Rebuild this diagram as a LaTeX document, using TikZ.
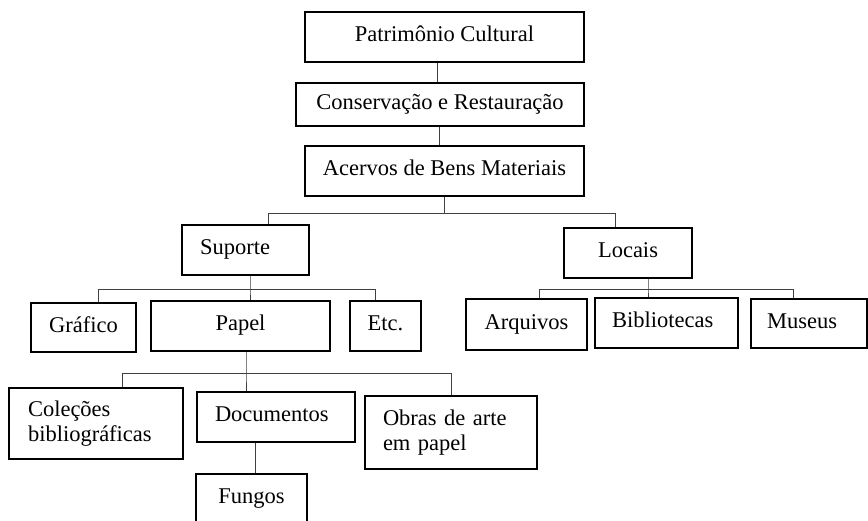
\documentclass[tikz,border=0pt]{standalone}
\usepackage{fontspec}
\setmainfont{Liberation Serif}
\usetikzlibrary{positioning}

\newcommand{\esq}[2]{\makebox[#1pt][l]{#2}}

\tikzset{
  caixa/.style={draw, line width=1.6pt, inner sep=0pt,
    font=\fontsize{22.5}{25}\selectfont},
  linha/.style={caixa, text height=14.5pt, text depth=5.5pt},
  bloco/.style={caixa, align=left, inner xsep=#1},
  link/.style={draw=black!75, line width=0.9pt},
}

\begin{document}
\begin{tikzpicture}[x=1pt,y=-1pt]
  \useasboundingbox (0,0) rectangle (868,520);
  \clip (0,0) rectangle (868,520);

  % first column of boxes
  \node[linha, minimum width=279, minimum height=50] (pat)  at (444.5,37)  {Patrimônio Cultural};
  \node[linha, minimum width=288, minimum height=43] (cons) at (440,104.5) {Conservação e Restauração};
  \node[linha, minimum width=279, minimum height=50] (acer) at (444.5,171) {Acervos de Bens Materiais};

  \node[linha, minimum width=127, minimum height=50] (sup) at (245.5,250) {\esq{91}{Suporte}};
  \node[linha, minimum width=128, minimum height=50] (loc) at (628,253)   {Locais};

  \node[linha, minimum width=105, minimum height=49] (graf)  at (83.5,327.5) {Gráfico};
  \node[linha, minimum width=179, minimum height=50] (papel) at (240.5,326)  {Papel};
  \node[linha, minimum width=71,  minimum height=50] (etc)   at (385.5,326)  {Etc.};

  \node[linha, minimum width=121, minimum height=51] (arq) at (526.5,324.5) {Arquivos};
  \node[linha, minimum width=143, minimum height=50] (bib) at (666.5,323)   {\esq{109}{Bibliotecas}};
  \node[linha, minimum width=116, minimum height=49] (mus) at (809,323.5)   {\esq{84}{Museus}};

  \node[bloco=19, text width=136, minimum height=71] (col) at (96,423.5)
    {Coleções\\bibliográficas};
  \node[linha, minimum width=158, minimum height=50] (doc) at (276,417) {\esq{122}{Documentos}};
  \node[bloco=18, text width=136, minimum height=73] (obras) at (451,432.5)
    {Obras de arte\\em papel};

  \node[linha, minimum width=111, minimum height=50, anchor=north] (fun) at (251.5,473) {Fungos};

  % connectors
  \draw[link] ([xshift=-7pt]pat.south) -- ([xshift=-7pt]pat.south |- cons.north);
  \draw[link] ([xshift=-1pt]cons.south) -- ([xshift=-1pt]cons.south |- acer.north);

  \draw[link] (acer.south) -- ++(0,17) coordinate (jA);
  \draw[link] ([xshift=23pt]sup.north) |- (jA) -| ([xshift=-13pt]loc.north);

  \draw[link] ([xshift=4.5pt]sup.south) -- ++(0,14) coordinate (jB) -- (jB |- papel.north);
  \draw[link] ([xshift=14.5pt]graf.north) |- (jB) -| ([xshift=-10.5pt]etc.north);

  \draw[link] ([xshift=20pt]loc.south) -- ++(0,11) coordinate (jC) -- (jC |- bib.north);
  \draw[link] ([xshift=12.5pt]arq.north) |- (jC) -| ([xshift=-16pt]mus.north);

  \draw[link] ([xshift=5.5pt]papel.south) -- ++(0,22) coordinate (jD) -- (jD |- doc.north);
  \draw[link] ([xshift=26pt]col.north) |- (jD) -| (obras.north);

  \draw[link] ([xshift=-21pt]doc.south) -- ([xshift=-21pt]doc.south |- fun.north);
\end{tikzpicture}
\end{document}
